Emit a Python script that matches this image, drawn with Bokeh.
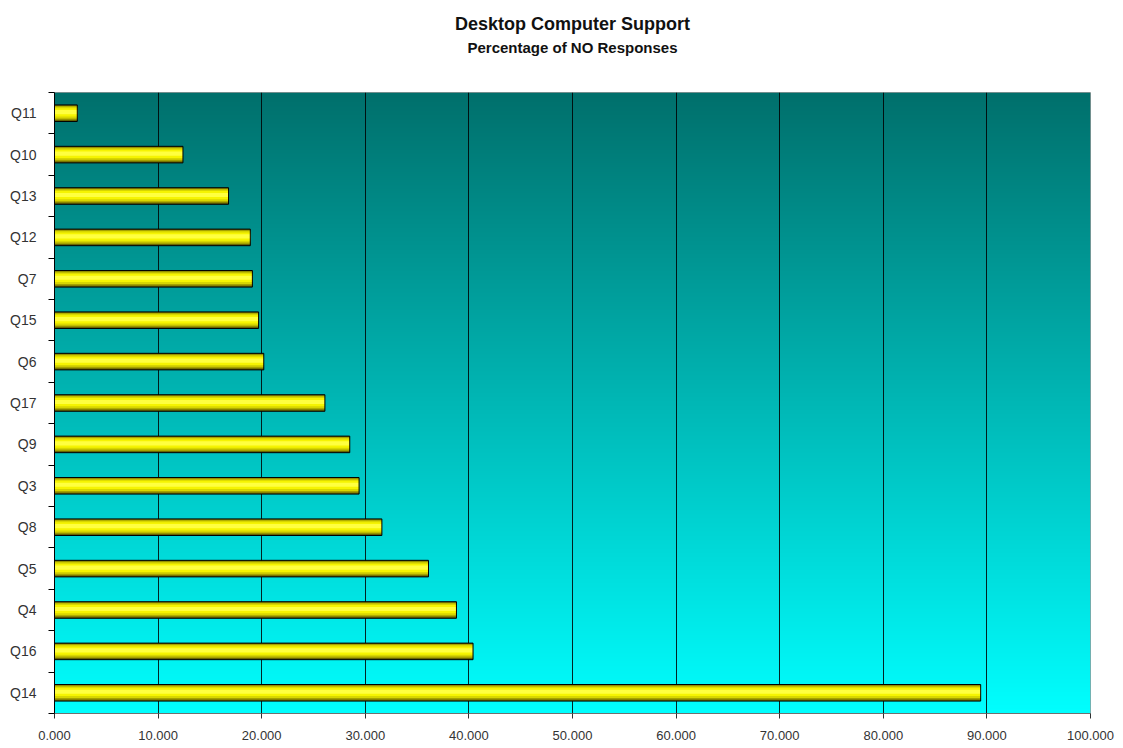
import numpy as np
from bokeh.plotting import figure
from bokeh.models import Range1d, FixedTicker, NumeralTickFormatter, Title
from bokeh.embed import file_html
from bokeh.resources import INLINE

# Questions listed top to bottom, with the share of "NO" answers (%)
questions = ["Q11", "Q10", "Q13", "Q12", "Q7", "Q15", "Q6", "Q17",
             "Q9", "Q3", "Q8", "Q5", "Q4", "Q16", "Q14"]
no_share = [2.2, 12.4, 16.8, 18.9, 19.1, 19.7, 20.2, 26.1,
            28.5, 29.4, 31.6, 36.1, 38.8, 40.4, 89.4]
x_ticks = [0, 10, 20, 30, 40, 50, 60, 70, 80, 90, 100]

n = len(questions)
# bottom row is the last question; row centres at 0.5, 1.5, ...
y_pos = [n - 1 - i + 0.5 for i in range(n)]

FONT = "Liberation Sans"

p = figure(width=1123, height=748, output_backend="svg", toolbar_location=None,
           x_range=Range1d(0, 100), y_range=Range1d(0, n),
           min_border_left=54, min_border_right=33,
           min_border_top=92, min_border_bottom=35)
p.background_fill_color = "white"
p.border_fill_color = "white"
p.outline_line_color = "#9a9a9a"
p.outline_line_width = 1

# vertical teal-to-cyan backdrop for the plot area
rows = 621
top = np.array([0, 112, 108], dtype=float)
bottom = np.array([0, 255, 255], dtype=float)
t = np.linspace(0, 1, rows)[:, None]
rgb = bottom * (1 - t) + top * t
img = np.empty((rows, 1), dtype=np.uint32)
view = img.view(dtype=np.uint8).reshape((rows, 1, 4))
view[:, 0, 0] = rgb[:, 0].astype(np.uint8)
view[:, 0, 1] = rgb[:, 1].astype(np.uint8)
view[:, 0, 2] = rgb[:, 2].astype(np.uint8)
view[:, 0, 3] = 255
bg = p.image_rgba(image=[img], x=0, y=0, dw=100, dh=n)
bg.level = "image"

# cylinder-like bars: stacked strips from dark rim to bright core
layers = [(0.40, 0.0, "#6a6600"),
          (0.34, 0.01, "#a6a200"),
          (0.28, 0.015, "#d8d600"),
          (0.20, 0.02, "#f6f400"),
          (0.10, 0.025, "#ffff40")]
for h, dy, col in layers:
    p.hbar(y=[y + dy for y in y_pos], right=no_share, left=0, height=h,
           fill_color=col, line_color=None)
p.hbar(y=y_pos, right=no_share, left=0, height=0.40,
       fill_color=None, line_color="black", line_width=1)

# x axis
p.xaxis.ticker = FixedTicker(ticks=x_ticks)
p.xaxis.formatter = NumeralTickFormatter(format="0.000")
p.xaxis.axis_line_color = "#707070"
p.xaxis.major_tick_line_color = "#303030"
p.xaxis.major_tick_out = 5
p.xaxis.major_tick_in = 0
p.xaxis.minor_tick_line_color = None
p.xaxis.major_label_standoff = 12
p.xaxis.major_label_text_font = FONT
p.xaxis.major_label_text_font_size = "13px"
p.xaxis.major_label_text_color = "#333333"

# y axis: labels at row centres, tick marks on row boundaries
p.yaxis.ticker = FixedTicker(ticks=y_pos, minor_ticks=list(range(n + 1)))
p.yaxis.major_label_overrides = {y: q for y, q in zip(y_pos, questions)}
p.yaxis.axis_line_color = "black"
p.yaxis.major_tick_line_color = None
p.yaxis.minor_tick_line_color = "black"
p.yaxis.minor_tick_out = 6
p.yaxis.minor_tick_in = 0
p.yaxis.major_label_standoff = 12
p.yaxis.major_label_text_font = FONT
p.yaxis.major_label_text_font_size = "14px"
p.yaxis.major_label_text_color = "#333333"

p.xgrid.ticker = FixedTicker(ticks=x_ticks[1:-1])
p.xgrid.grid_line_color = "black"
p.xgrid.grid_line_alpha = 0.85
p.xgrid.grid_line_width = 1
p.ygrid.grid_line_color = None

# two-line heading (subtitle first: it sits nearer the plot)
p.add_layout(Title(text="Percentage of NO Responses", align="center", offset=-9,
                   standoff=73, text_font=FONT, text_font_style="bold",
                   text_font_size="15px", text_color="#111111"), "above")
p.add_layout(Title(text="Desktop Computer Support", align="center", offset=-9,
                   standoff=-67, text_font=FONT, text_font_style="bold",
                   text_font_size="18px", text_color="#111111"), "above")

open("out.html", "w").write(file_html(p, INLINE))
